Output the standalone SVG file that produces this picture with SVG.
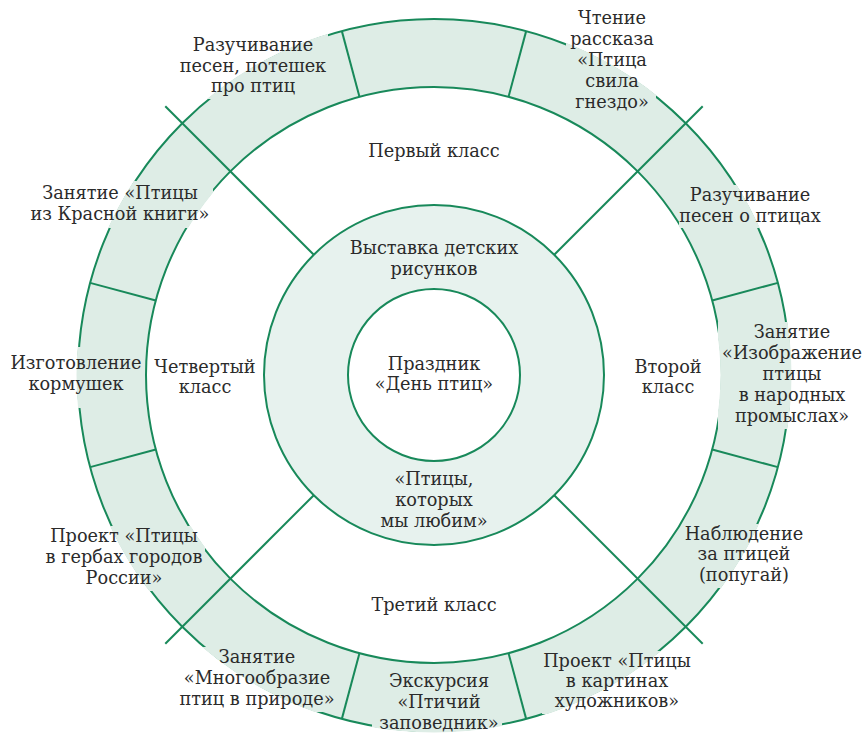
<svg xmlns="http://www.w3.org/2000/svg" width="868" height="733" viewBox="0 0 868 733">
<style>
.ln{stroke:#18895a;stroke-width:2;fill:none}
.ring{fill:#deede6;stroke:#18895a;stroke-width:2}
.mid{fill:#e7f2ee;stroke:#18895a;stroke-width:2}
.wh{fill:#ffffff;stroke:#18895a;stroke-width:2}
.bx{fill:#deede6}
text{font-family:"DejaVu Serif","Liberation Serif",serif;font-size:17.7px;fill:#2b2b2b;text-anchor:middle}
</style>
<defs>
<clipPath id="ann">
<path clip-rule="evenodd" d="M76.5 375A357.5 357.5 0 1 0 791.5 375A357.5 357.5 0 1 0 76.5 375ZM147.5 375A286.5 286.5 0 1 0 720.5 375A286.5 286.5 0 1 0 147.5 375Z"/>
</clipPath>
</defs>
<rect width="868" height="733" fill="#ffffff"/>
<g id="ring">
<circle class="ring" cx="434" cy="375" r="356"/>
<circle class="wh" cx="434" cy="375" r="288"/>
</g>
<g id="connectors">
<line class="ln" x1="359.46" y1="96.81" x2="341.86" y2="31.13"/>
<line class="ln" x1="508.54" y1="96.81" x2="526.14" y2="31.13"/>
<line class="ln" x1="359.46" y1="653.19" x2="341.86" y2="718.87"/>
<line class="ln" x1="508.54" y1="653.19" x2="526.14" y2="718.87"/>
<line class="ln" x1="712.19" y1="300.46" x2="777.87" y2="282.86"/>
<line class="ln" x1="712.19" y1="449.54" x2="777.87" y2="467.14"/>
<line class="ln" x1="155.81" y1="300.46" x2="90.13" y2="282.86"/>
<line class="ln" x1="155.81" y1="449.54" x2="90.13" y2="467.14"/>
<line class="ln" x1="554.21" y1="254.79" x2="702.70" y2="106.30"/>
<line class="ln" x1="313.79" y1="254.79" x2="165.30" y2="106.30"/>
<line class="ln" x1="554.21" y1="495.21" x2="702.70" y2="643.70"/>
<line class="ln" x1="313.79" y1="495.21" x2="165.30" y2="643.70"/>
</g>
<g id="middle">
<circle class="mid" cx="434" cy="375" r="170"/>
<text x="434" y="254">Выставка детских</text>
<text x="434" y="275">рисунков</text>
<text x="434" y="485">«Птицы,</text>
<text x="434" y="506">которых</text>
<text x="434" y="527">мы любим»</text>
</g>
<g id="center">
<circle class="wh" cx="434" cy="375" r="86"/>
<text x="434" y="370">Праздник</text>
<text x="434" y="390">«День птиц»</text>
</g>
<g id="class1"><text x="434" y="157">Первый класс</text></g>
<g id="class2"><text x="668" y="373">Второй</text><text x="668" y="393">класс</text></g>
<g id="class3"><text x="434" y="611">Третий класс</text></g>
<g id="class4"><text x="205" y="373">Четвертый</text><text x="205" y="393">класс</text></g>
<g id="boxes" clip-path="url(#ann)">
<rect class="bx" x="178" y="33" width="150" height="66"/>
<rect class="bx" x="566" y="8" width="90" height="106"/>
<rect class="bx" x="679" y="185" width="143" height="43"/>
<rect class="bx" x="718" y="322" width="148" height="107"/>
<rect class="bx" x="683" y="524" width="123" height="64"/>
<rect class="bx" x="542" y="651" width="152" height="63"/>
<rect class="bx" x="372" y="671" width="130" height="62"/>
<rect class="bx" x="180" y="647" width="154" height="65"/>
<rect class="bx" x="44" y="526" width="161" height="65"/>
<rect class="bx" x="9" y="347" width="134" height="61"/>
<rect class="bx" x="28" y="181" width="185" height="47"/>
</g>
<g id="a1"><text x="253" y="51">Разучивание</text><text x="253" y="72">песен, потешек</text><text x="253" y="92">про птиц</text></g>
<g id="a2"><text x="612" y="24">Чтение</text><text x="612" y="45">рассказа</text><text x="612" y="66">«Птица</text><text x="612" y="87">свила</text><text x="612" y="108">гнездо»</text></g>
<g id="a3"><text x="750" y="201">Разучивание</text><text x="750" y="222">песен о птицах</text></g>
<g id="a4"><text x="792" y="338">Занятие</text><text x="792" y="359">«Изображение</text><text x="792" y="380">птицы</text><text x="792" y="401">в народных</text><text x="792" y="422">промыслах»</text></g>
<g id="a5"><text x="744" y="540">Наблюдение</text><text x="744" y="560">за птицей</text><text x="744" y="581">(попугай)</text></g>
<g id="a6"><text x="617" y="667">Проект «Птицы</text><text x="617" y="687">в картинах</text><text x="617" y="707">художников»</text></g>
<g id="a7"><text x="439" y="687">Экскурсия</text><text x="439" y="708">«Птичий</text><text x="439" y="729">заповедник»</text></g>
<g id="a8"><text x="257" y="663">Занятие</text><text x="257" y="684">«Многообразие</text><text x="257" y="705">птиц в природе»</text></g>
<g id="a9"><text x="124" y="542">Проект «Птицы</text><text x="124" y="563">в гербах городов</text><text x="124" y="584">России»</text></g>
<g id="a10"><text x="76" y="369">Изготовление</text><text x="76" y="390">кормушек</text></g>
<g id="a11"><text x="120" y="199">Занятие «Птицы</text><text x="120" y="220">из Красной книги»</text></g>
</svg>
